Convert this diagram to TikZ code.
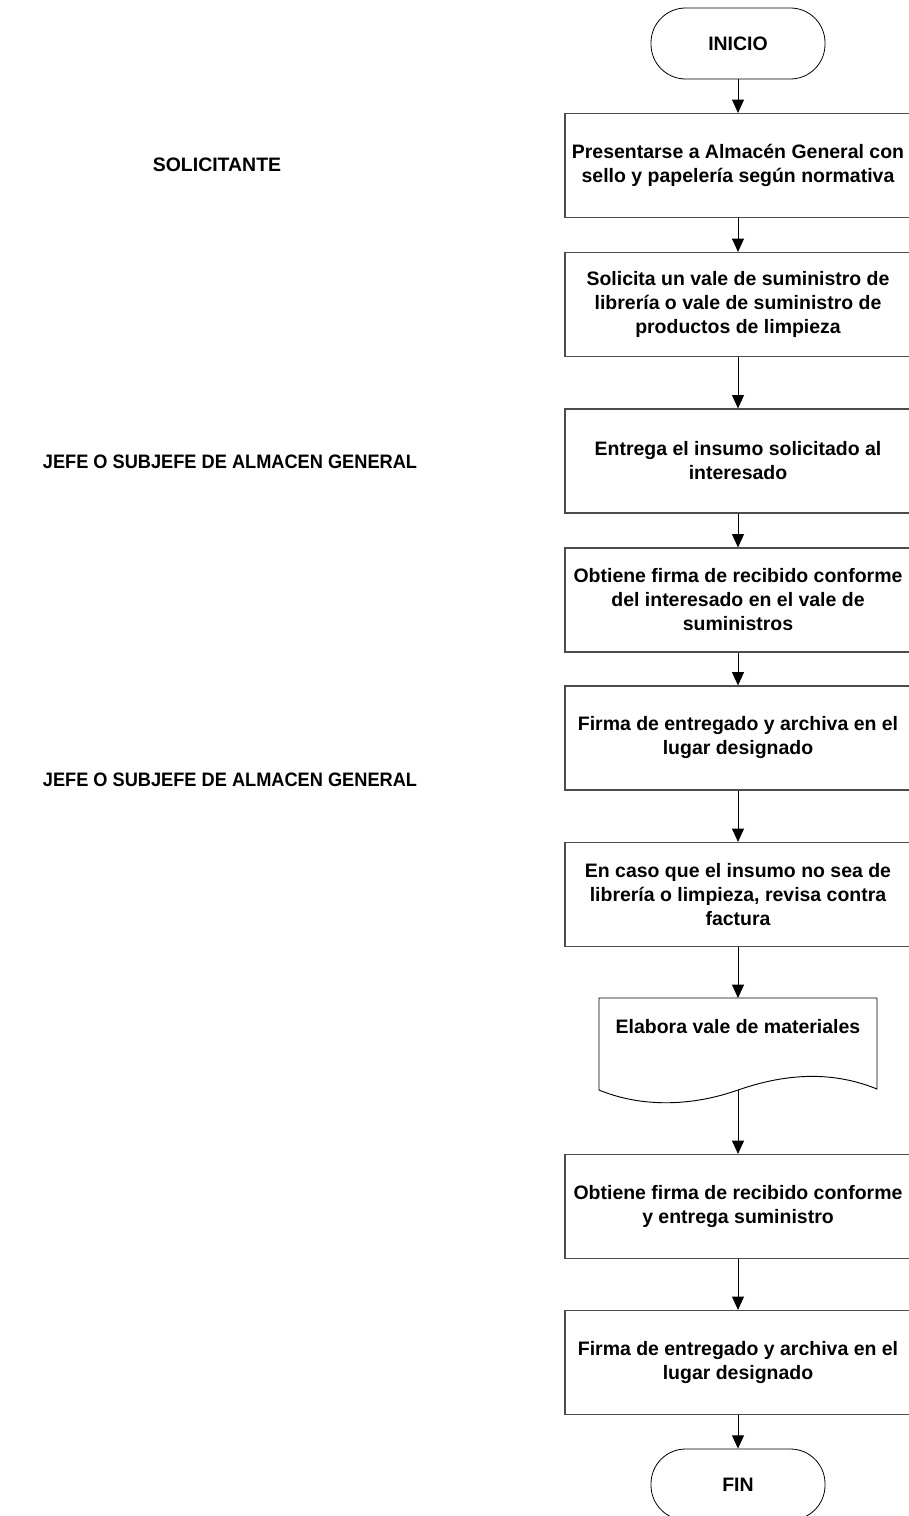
\documentclass[tikz,border=0pt]{standalone}
\usepackage{fontspec}
\usepackage{graphicx}
\setmainfont{Liberation Sans}
\usetikzlibrary{arrows.meta}
\tikzset{
  every node/.style={font=\fontsize{14.6}{18}\selectfont\bfseries},
  procbox/.style={draw=black!70, line width=0.9pt, rectangle, minimum width=259.5pt, minimum height=78pt, align=center, inner sep=0pt},
  termbox/.style={draw=black, line width=0.6pt, rectangle, rounded corners=26pt, minimum width=130.5pt, minimum height=53.25pt, inner sep=0pt},
  doctext/.style={align=center, inner sep=0pt},
  lanelbl/.style={align=center, inner sep=0pt},
  flow/.style={draw=black, line width=0.7pt, -{Triangle[length=10pt, width=9pt]}},
  docshape/.style={draw=black, line width=0.7pt}
}
\begin{document}
\begin{tikzpicture}[x=0.75pt, y=-0.75pt]
\useasboundingbox (0,0) rectangle (908,1516);
% lane labels
\node[lanelbl] (l1) at (217,165) {SOLICITANTE};
\node[lanelbl] (l2) at (230,462) {\scalebox{0.935}[1]{JEFE O SUBJEFE DE ALMACEN GENERAL}};
\node[lanelbl] (l3) at (230,780) {\scalebox{0.935}[1]{JEFE O SUBJEFE DE ALMACEN GENERAL}};
% flow
\node[termbox] (ini) at (738,43.5) {INICIO};
\node[procbox] (b1) at (738,165.5) {Presentarse a Almacén General con\\sello y papelería según normativa};
\node[procbox] (b2) at (738,304.5) {Solicita un vale de suministro de\\librería o vale de suministro de\\productos de limpieza};
\node[procbox] (b3) at (738,461) {Entrega el insumo solicitado al\\interesado};
\node[procbox] (b4) at (738,600) {Obtiene firma de recibido conforme\\del interesado en el vale de\\suministros};
\node[procbox] (b5) at (738,738) {Firma de entregado y archiva en el\\lugar designado};
\node[procbox] (b6) at (738,894.5) {En caso que el insumo no sea de\\librería o limpieza, revisa contra\\factura};
% document shape
\draw[docshape] (599,998) -- (877,998) -- (877,1089)
  .. controls (835,1072) and (790,1072) .. (738,1090)
  .. controls (690,1107) and (640,1107) .. (599,1090) -- cycle;
\coordinate (doctop) at (738,998);
\coordinate (docbot) at (738,1090);
\node[doctext] (doc) at (738,1027) {Elabora vale de materiales};
\node[procbox] (b7) at (738,1206.5) {Obtiene firma de recibido conforme\\y entrega suministro};
\node[procbox] (b8) at (738,1362.5) {Firma de entregado y archiva en el\\lugar designado};
\node[termbox] (fin) at (738,1484.5) {FIN};
% connectors
\draw[flow] (ini.south) -- (b1.north);
\draw[flow] (b1.south) -- (b2.north);
\draw[flow] (b2.south) -- (b3.north);
\draw[flow] (b3.south) -- (b4.north);
\draw[flow] (b4.south) -- (b5.north);
\draw[flow] (b5.south) -- (b6.north);
\draw[flow] (b6.south) -- (doctop);
\draw[flow] (docbot) -- (b7.north);
\draw[flow] (b7.south) -- (b8.north);
\draw[flow] (b8.south) -- (fin.north);
\end{tikzpicture}
\end{document}
